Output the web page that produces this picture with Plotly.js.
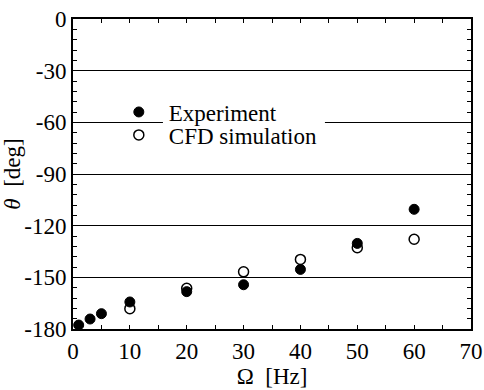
<!DOCTYPE html>
<html>
<head>
<meta charset="utf-8">
<script src="https://cdn.plot.ly/plotly-3.0.1.min.js"></script>
<style>
html, body { margin: 0; padding: 0; background: #fff; }
#fig svg text { font-family: serif !important; }
</style>
</head>
<body>
<div id="fig" style="width:484px;height:390px"></div>
<script>
// Data
var omegaExp = [1, 3, 5, 10, 20, 30, 40, 50, 60];
var thetaExp = [-177.7, -174.2, -171.1, -164.3, -158.3, -154.3, -145.4, -130.3, -110.5];
var omegaCFD = [10, 20, 30, 40, 50, 60];
var thetaCFD = [-168.2, -156.4, -146.8, -139.6, -132.8, -127.9];
var seriesNames = ['Experiment', 'CFD simulation'];
var xTickVals = [0, 10, 20, 30, 40, 50, 60, 70];
var yTickVals = [0, -30, -60, -90, -120, -150, -180];

(function () {
  var fam = 'serif';
  var traces = [
    {
      x: omegaExp, y: thetaExp, name: seriesNames[0], type: 'scatter', mode: 'markers',
      marker: {symbol: 'circle', size: 10, color: '#000', line: {color: '#000', width: 1}},
      cliponaxis: false, legend: 'legend'
    },
    {
      x: omegaCFD, y: thetaCFD, name: seriesNames[1], type: 'scatter', mode: 'markers',
      marker: {symbol: 'circle-open', size: 10, color: '#000', line: {color: '#000', width: 1.5}},
      cliponaxis: false, legend: 'legend2'
    }
  ];

  function legendCfg(yy) {
    return {
      font: {family: fam, size: 23, color: '#000'},
      bgcolor: 'rgba(0,0,0,0)', borderwidth: 0, itemwidth: 50,
      xanchor: 'left', yanchor: 'middle', x: 0.09, y: yy
    };
  }

  var layout = {
    width: 484, height: 390,
    margin: {l: 73, r: 13, t: 19, b: 61, pad: 0},
    paper_bgcolor: '#fff', plot_bgcolor: '#fff',
    font: {family: fam, size: 23, color: '#000'},
    showlegend: true,
    legend: legendCfg(0.700),
    legend2: legendCfg(0.626),
    xaxis: {
      range: [0, 70], tickvals: xTickVals, ticktext: xTickVals.map(String),
      ticks: 'inside', ticklen: 4, tickwidth: 1.2, tickcolor: '#000',
      minor: {dtick: 5, tick0: 0, ticks: 'inside', ticklen: 4, tickwidth: 1.2, tickcolor: '#000', showgrid: false},
      showline: true, linecolor: '#000', linewidth: 2, mirror: 'ticks',
      showgrid: false, zeroline: false,
      tickfont: {family: fam, size: 23, color: '#000'},
      title: {text: 'Ω  [Hz]', font: {family: fam, size: 23, color: '#000'}, standoff: 2}
    },
    yaxis: {
      range: [-180, 0], tickvals: yTickVals, ticktext: yTickVals.map(String),
      ticks: 'inside', ticklen: 4, tickwidth: 1.2, tickcolor: '#000',
      minor: {dtick: 6, tick0: 0, ticks: 'inside', ticklen: 4, tickwidth: 1.2, tickcolor: '#000', showgrid: false},
      showline: true, linecolor: '#000', linewidth: 2, mirror: 'ticks',
      showgrid: true, gridcolor: '#000', gridwidth: 1.3, zeroline: false,
      tickfont: {family: fam, size: 23, color: '#000'},
      title: {text: '<i>θ</i>  [deg]', font: {family: fam, size: 23, color: '#000'}, standoff: 4}
    },
    shapes: [
      {type: 'rect', xref: 'paper', yref: 'y', x0: 0.226, x1: 0.633, y0: -62, y1: -58,
       fillcolor: '#fff', line: {width: 0}, layer: 'above'}
    ]
  };

  Plotly.newPlot('fig', traces, layout, {displayModeBar: false});
})();
</script>
</body>
</html>
